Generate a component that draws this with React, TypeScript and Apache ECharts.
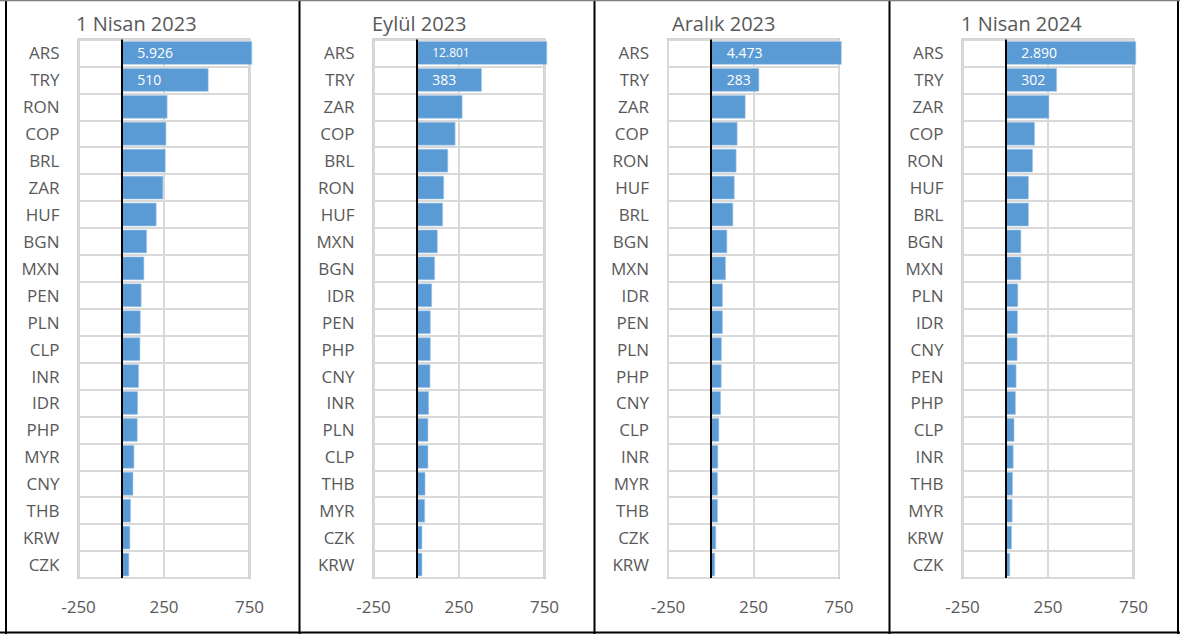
import React, { useEffect, useRef } from "react";
import * as echarts from "echarts";

const panelTitles = ["1 Nisan 2023", "Eylül 2023", "Aralık 2023", "1 Nisan 2024"];

const categories2023Apr = ["ARS", "TRY", "RON", "COP", "BRL", "ZAR", "HUF", "BGN", "MXN", "PEN", "PLN", "CLP", "INR", "IDR", "PHP", "MYR", "CNY", "THB", "KRW", "CZK"];
const values2023Apr = [5926, 510, 270, 263, 259, 245, 206, 150, 134, 118, 113, 111, 103, 97, 95, 76, 70, 56, 52, 46];

const categories2023Sep = ["ARS", "TRY", "ZAR", "COP", "BRL", "RON", "HUF", "MXN", "BGN", "IDR", "PEN", "PHP", "CNY", "INR", "PLN", "CLP", "THB", "MYR", "CZK", "KRW"];
const values2023Sep = [12801, 383, 270, 229, 186, 162, 156, 125, 109, 92, 84, 84, 82, 74, 70, 70, 53, 51, 35, 35];

const categories2023Dec = ["ARS", "TRY", "ZAR", "COP", "RON", "HUF", "BRL", "BGN", "MXN", "IDR", "PEN", "PLN", "PHP", "CNY", "CLP", "INR", "MYR", "THB", "CZK", "KRW"];
const values2023Dec = [4473, 283, 203, 156, 150, 139, 131, 96, 88, 70, 70, 64, 63, 59, 49, 43, 41, 41, 31, 25];

const categories2024Apr = ["ARS", "TRY", "ZAR", "COP", "RON", "HUF", "BRL", "BGN", "MXN", "PLN", "IDR", "CNY", "PEN", "PHP", "CLP", "INR", "THB", "MYR", "KRW", "CZK"];
const values2024Apr = [2890, 302, 257, 173, 161, 137, 137, 93, 93, 75, 73, 71, 65, 61, 53, 48, 44, 42, 38, 28];

const xTickMin = -250;
const xTickMax = 750;
const xTickStep = 500;
const labelledCount = 2; // ARS and TRY show their values

const panelCategories = [categories2023Apr, categories2023Sep, categories2023Dec, categories2024Apr];
const panelValues = [values2023Apr, values2023Sep, values2023Dec, values2024Apr];

// layout
const W = 1180;
const H = 634;
const gridLefts = [78.5, 373.5, 668, 962.5];
const gridWidth = 171;
const gridTop = 39.5;
const gridHeight = 538.5;
const titleLefts = [76, 372, 672, 961];
const separatorsX = [6, 299.5, 594.5, 889.5, 1178];
const barOverflow = 765; // bars beyond the axis end run slightly past the frame, as in the original

const TEXT = "#595959";
const FONT = "'Open Sans', 'Segoe UI', sans-serif";

function fmt(v: number): string {
  return String(v).replace(/\B(?=(\d{3})+(?!\d))/g, ".");
}

export default function App() {
  const ref = useRef<HTMLDivElement>(null);
  useEffect(() => {
    document.body.style.margin = "0";
    if (!ref.current) return;
    const chart = echarts.init(ref.current, null, { renderer: "svg" });

    const grid: any[] = [];
    const xAxis: any[] = [];
    const yAxis: any[] = [];
    const series: any[] = [];
    const graphic: any[] = [];

    panelCategories.forEach((cats, i) => {
      const vals = panelValues[i];
      grid.push({
        left: gridLefts[i],
        top: gridTop,
        width: gridWidth,
        height: gridHeight,
        show: true,
        borderColor: "#a6a6a6",
        borderWidth: 2,
        backgroundColor: "transparent",
        containLabel: false,
      });
      xAxis.push({
        type: "value",
        gridIndex: i,
        min: xTickMin,
        max: xTickMax,
        interval: xTickStep,
        axisLine: { show: false },
        axisTick: { show: false },
        splitLine: { show: true, lineStyle: { color: "#d9d9d9", width: 2 } },
        axisLabel: { color: TEXT, fontSize: 17, fontFamily: FONT, margin: 20 },
      });
      yAxis.push({
        type: "category",
        gridIndex: i,
        data: cats,
        inverse: true,
        axisLine: { show: false, onZero: false },
        axisTick: { show: false },
        splitLine: { show: true, lineStyle: { color: "#d9d9d9", width: 2 } },
        axisLabel: { color: TEXT, fontSize: 17, fontFamily: FONT, margin: 19 },
      });
      series.push({
        type: "bar",
        xAxisIndex: i,
        yAxisIndex: i,
        barCategoryGap: "13%",
        clip: false,
        itemStyle: { color: "#5b9bd5", borderColor: "#9dc3e6", borderWidth: 0.6 },
        data: vals.map((v, k) => ({
          value: Math.min(v, barOverflow),
          raw: v,
          label:
            k < labelledCount
              ? {
                  show: true,
                  position: "insideLeft",
                  distance: 16,
                  color: "#ffffff",
                  fontFamily: FONT,
                  fontSize: fmt(v).length > 5 ? 12 : 14,
                  formatter: fmt(v),
                }
              : { show: false },
        })),
        markLine: {
          silent: true,
          symbol: ["none", "none"],
          label: { show: false },
          lineStyle: { color: "#000000", width: 2, type: "solid" },
          data: [{ xAxis: 0 }],
          z: 10,
        },
      });
      graphic.push({
        type: "text",
        left: titleLefts[i],
        top: 13,
        style: { text: panelTitles[i], font: `20px ${FONT}`, fill: TEXT },
      });
    });

    separatorsX.forEach((x) => {
      graphic.push({
        type: "line",
        shape: { x1: x, y1: 0, x2: x, y2: H },
        style: { stroke: "#000000", lineWidth: 2 },
      });
    });
    graphic.push({
      type: "line",
      shape: { x1: 0, y1: 632.5, x2: W, y2: 632.5 },
      style: { stroke: "#000000", lineWidth: 2 },
    });
    graphic.push({
      type: "line",
      shape: { x1: 0, y1: 0.5, x2: W, y2: 0.5 },
      style: { stroke: "#7f7f7f", lineWidth: 1.5 },
    });

    chart.setOption({
      animation: false,
      backgroundColor: "#ffffff",
      grid,
      xAxis,
      yAxis,
      series,
      graphic,
    });
    return () => chart.dispose();
  }, []);
  return (
    <div
      ref={ref}
      style={{ position: "absolute", left: 0, top: 0, width: W, height: H }}
    />
  );
}
